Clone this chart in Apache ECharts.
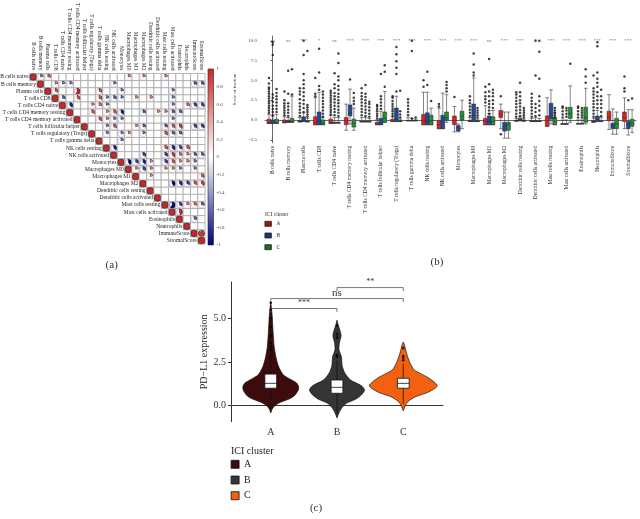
<!DOCTYPE html>
<html><head><meta charset="utf-8">
<script src="https://cdn.jsdelivr.net/npm/echarts@6/dist/echarts.min.js"></script>
<style>html,body{margin:0;padding:0;background:#fff}#c{width:640px;height:519px}</style>
</head><body><div id="c"></div>
<script>
// ---------- data ----------
const cellTypes = ['B cells naive','B cells memory','Plasma cells','T cells CD8','T cells CD4 naive','T cells CD4 memory resting','T cells CD4 memory activated','T cells follicular helper','T cells regulatory (Tregs)','T cells gamma delta','NK cells resting','NK cells activated','Monocytes','Macrophages M0','Macrophages M1','Macrophages M2','Dendritic cells resting','Dendritic cells activated','Mast cells resting','Mast cells activated','Eosinophils','Neutrophils','ImmuneScore','StromalScore'];
// significant correlations [row, col, r]
const corrSig = [
[0,1,-0.2],[0,2,0.25],[0,13,0.2],[0,15,0.2],[0,18,0.2],
[1,3,0.2],[1,4,-0.2],[1,5,-0.2],[1,11,-0.2],[1,22,-0.25],[1,23,-0.25],
[2,3,0.3],[2,6,0.55],[2,9,0.3],[2,12,-0.2],[2,19,-0.2],
[3,4,-0.25],[3,6,0.3],[3,9,0.3],[3,10,-0.2],[3,11,-0.25],[3,12,-0.2],[3,14,0.2],[3,16,0.2],[3,19,-0.2],
[4,5,-0.35],[4,8,0.2],[4,9,0.25],[4,10,-0.2],[4,19,-0.2],[4,21,0.25],[4,22,-0.3],[4,23,-0.3],
[5,8,0.3],[5,10,0.2],[5,11,0.3],[5,12,-0.35],[5,15,-0.25],[5,17,0.2],[5,18,0.2],[5,19,-0.25],[5,20,-0.25],
[6,9,0.3],[6,10,0.2],[6,11,-0.2],[6,12,-0.2],[6,19,-0.2],
[7,10,-0.2],[7,11,0.3],[7,14,0.2],[7,15,-0.25],[7,18,-0.25],[7,19,0.3],[7,20,0.35],[7,22,-0.3],[7,23,-0.3],
[8,10,-0.2],[8,12,-0.2],[8,13,0.2],[8,15,-0.2],[8,18,0.3],[8,19,-0.25],[8,20,-0.25],
[9,12,-0.2],
[10,11,-0.35],[10,18,0.3],[10,19,-0.35],[10,20,-0.3],[10,21,0.3],
[11,15,-0.3],[11,18,-0.3],[11,19,0.35],[11,20,0.25],[11,21,0.2],[11,22,-0.25],[11,23,-0.25],
[12,13,-0.4],[12,14,-0.3],[12,15,-0.35],[12,16,0.2],[12,18,-0.3],[12,19,0.3],[12,20,0.2],[12,21,0.2],[12,22,-0.2],
[13,14,0.2],[13,15,-0.3],[13,16,0.2],[13,18,0.2],[13,19,0.2],[13,20,-0.2],[13,22,-0.2],
[14,16,0.2],[14,23,0.3],
[15,19,-0.4],[15,20,-0.35],[15,21,-0.3],[15,22,0.3],[15,23,0.35],
[18,19,-0.6],[18,20,-0.3],[18,21,0.2],[18,22,0.25],[18,23,-0.25],
[19,20,0.45],
[20,22,-0.25],
[22,23,0.9]
];
const colorbarTicks = [-1,-0.8,-0.6,-0.4,-0.2,0,0.2,0.4,0.6,0.8,1];

// panel b: [min, Q1, median, Q3, max]
const boxA = [
[-0.45,-0.45,-0.3,0.1,0.7],[-0.35,-0.35,-0.25,0.0,0.4],[-0.25,-0.25,-0.2,-0.1,0.3],[-0.6,-0.6,-0.3,0.4,2.8],
[-0.45,-0.45,-0.3,0.1,0.6],[-1.3,-0.6,-0.1,0.3,2.0],[-0.25,-0.25,-0.2,-0.15,0.3],[-0.6,-0.6,-0.5,-0.3,0.0],
[-0.2,-0.2,-0.15,0.1,0.4],[-0.1,-0.1,-0.1,-0.05,0.3],[-0.6,-0.6,-0.1,0.7,3.5],[-1.1,-1.1,-0.6,-0.1,1.5],
[-1.5,-0.6,-0.1,0.5,1.7],[-0.2,-0.2,-0.15,-0.05,0.3],[-0.6,-0.6,-0.2,0.2,1.8],[-1.1,0.3,0.7,1.2,2.0],
[-0.15,-0.15,-0.1,-0.05,0.2],[-0.2,-0.2,-0.15,-0.1,0.2],[-0.8,-0.8,-0.1,0.5,2.8],[-0.55,-0.55,-0.5,-0.45,0.0],
[-0.5,-0.5,-0.5,-0.45,0.0],[-0.3,-0.3,-0.2,-0.1,0.2],[-1.2,-0.1,0.4,1.1,3.2],[-1.1,-0.2,0.3,1.0,2.8]];
const boxB = [
[-0.45,-0.45,-0.3,0.0,0.5],[-0.3,-0.3,-0.25,-0.1,0.3],[-0.2,-0.2,-0.1,0.4,0.9],[-0.6,-0.6,-0.2,1.0,3.5],
[-0.4,-0.4,-0.35,-0.3,0.3],[-0.5,0.5,0.9,1.9,3.9],[-0.25,-0.25,-0.2,-0.15,0.3],[-0.6,-0.6,-0.4,0.2,1.1],
[-0.2,-0.2,0.1,1.5,3.0],[-0.1,-0.1,-0.1,-0.05,0.2],[-0.6,-0.6,-0.2,0.9,3.5],[-1.1,-1.1,-0.3,0.6,3.4],
[-1.5,-1.4,-1.0,-0.7,-0.5],[-0.2,-0.2,0.6,2.0,5.3],[-0.6,-0.6,-0.2,0.5,0.8],[-2.3,-1.4,-0.8,-0.3,1.0],
[-0.1,-0.1,0.0,0.2,0.4],[-0.2,-0.2,-0.15,-0.1,0.3],[-0.5,0.1,0.6,2.1,3.8],[-0.55,-0.55,-0.5,-0.45,0.0],
[-0.5,-0.5,-0.5,-0.4,0.0],[-0.2,-0.2,0.1,0.5,1.2],[-1.8,-1.1,-0.7,-0.4,1.4],[-1.9,-1.1,-0.5,-0.2,1.3]];
const boxC = [
[-0.45,-0.45,-0.3,0.1,0.7],[-0.3,-0.3,-0.2,0.2,3.0],[-0.25,-0.25,-0.2,-0.1,0.2],[-0.6,-0.6,-0.4,0.0,0.3],
[-0.4,-0.4,-0.35,-0.3,0.3],[-1.3,-0.9,-0.4,0.1,1.5],[-0.25,-0.25,-0.2,-0.15,0.2],[-0.3,-0.3,0.2,1.0,3.6],
[-0.2,-0.2,-0.15,-0.1,0.1],[-0.1,-0.1,-0.1,-0.05,0.1],[-0.6,-0.6,-0.1,0.6,1.5],[-0.3,0.0,0.3,1.0,3.2],
[-1.1,0.0,0.5,1.1,2.5],[-0.2,-0.2,-0.15,-0.1,0.1],[-0.6,-0.6,-0.2,0.4,1.2],[-2.3,-1.3,-0.6,-0.3,1.0],
[-0.15,-0.15,-0.1,-0.05,0.1],[-0.2,-0.2,-0.15,-0.1,0.2],[-0.6,-0.6,-0.2,0.3,0.9],[-0.3,0.2,0.8,1.6,4.3],
[-0.5,-0.3,0.3,1.6,4.0],[-0.2,-0.2,-0.15,-0.1,0.3],[-1.8,-1.1,-0.5,0.2,1.0],[-1.6,-0.8,-0.4,0.1,1.3]];
// outliers per category
const outA = [
[0.9,1.2,1.5,1.8,2.1,2.4,2.7,3.0,3.3,3.6,3.9,4.1,4.6,5.3],[0.6,0.9,1.2,1.5,1.8,2.1,2.5,3.6],[0.5,0.9,1.3,1.7,2.1,2.6,3.2,3.6,4.0],[3.0,3.3,5.3],
[0.7,1.0,1.3,1.6,1.9,2.2,2.5,2.8,3.1,3.4,3.7],[],[0.6,1.0,1.4,1.8,2.2,2.6,3.0,3.4,4.0],[0.2,0.5,0.8,1.1,1.4,1.7,1.9],
[0.5,0.8,1.1,1.4,1.7,2.0,2.4,2.8,3.0],[0.6,1.0,1.4,1.8,2.2,2.6],[4.2,5.0],[1.7,2.0],
[2.9],[0.5,0.9,1.3,1.7,2.1,2.5,3.0],[2.2,2.6,3.0,3.5,4.2],[-1.8,3.0],
[0.4,0.8,1.2,1.6,2.0,2.4,2.8,3.2,3.5],[0.4,0.8,1.2,1.6,2.0,2.4,2.8,3.3],[],[0.3,0.7,1.1,1.5,1.7],
[0.3,0.7,1.1,1.5,1.7],[0.4,0.8,1.2,1.6,2.0,2.4,2.8,3.2,3.6,4.0,5.6],[],[3.6,4.0,5.5]];
const outB = [
[0.6,1.0,1.4,1.8,2.3,2.8,3.2,8.2,9.5,9.8],[0.5,0.9,1.3,1.7,2.1,3.3,6.2],[1.0,1.5,2.0,2.5,3.0,3.5,4.0,4.5,5.0,5.8,8.2,10.0],[3.8,4.3,6.0,9.0],
[0.6,1.0,1.4,1.8,2.2,2.6,3.0,3.4,4.0,4.5,5.9],[5.1],[0.5,0.9,1.3,1.7,2.1,2.5,2.9,3.3,4.4],[1.4,1.8,2.2,2.6,3.0,5.8],
[3.6,5.8,6.6,7.4,8.3,9.2],[0.2,8.7,10.0],[4.4,6.1],[],
[],[5.6,6.0,7.0,8.4],[0.8,1.2,1.6,2.0,2.4,3.0,3.6,4.5,7.7],[],
[0.5,0.9,1.3,1.7,2.1,2.5,3.0,3.5,4.7],[0.5,1.0,1.5,2.0,5.6,10.0],[],[0.4,0.8,1.2,1.5],
[0.3,0.6,0.9,1.2,1.5],[1.5,2.0,2.5,3.0,3.5,4.2,4.7,5.2,6.0,9.3,9.8],[],[2.5]];
const outC = [
[1.0,1.4,1.8,2.2,2.6,3.0,3.4,3.9],[3.2,6.4],[0.4,0.7,1.0,1.3,1.6,1.9,8.7],[0.4,0.8,1.2,1.6,2.0,2.4,2.8,3.2,3.6],
[0.5,0.9,1.3,1.7,2.1,2.5,2.9,3.3,3.8,4.3,5.0,5.5,7.2,8.4],[2.0,2.4,2.8,3.4],[0.4,0.8,1.2,1.6,2.0,2.3],[4.2,6.1,6.9],
[0.3,0.7,1.1,3.7],[0.3],[2.4],[3.6,4.0,4.4,4.8],
[],[0.3,0.6,0.9,1.2,1.5],[1.5,2.0,2.5,3.0,3.4,3.8],[],
[0.3,0.6,0.9,1.2,1.5],[0.6,1.2,1.8,2.4,3.0,5.2,8.6,10.0],[0.3,0.6,0.9,1.2,1.5],[7.1],
[4.7,5.5,6.4],[0.5,1.0,1.5,2.0,2.5,3.0,3.8],[],[2.7]];
const sigB = ['ns','ns','***','*','ns','***','***','***','***','***','***','***','***','***','ns','***','***','*','***','***','***','***','***','***'];
const sigLevel = 10.0;
const bTicks = [-2.5,0,2.5,5,7.5,10];

// panel c
const clusters = ['A','B','C'];
// violin density profiles: [value, relative density]
const violinA = [[-0.42,0],[-0.2,0.04],[0.0,0.12],[0.2,0.29],[0.4,0.56],[0.6,0.71],[0.9,0.81],[1.1,0.82],[1.3,0.76],[1.5,0.59],[1.75,0.38],[2.0,0.29],[2.3,0.22],[2.8,0.15],[3.4,0.10],[4.2,0.07],[5.2,0.04],[5.95,0]];
const violinB = [[-0.7,0],[-0.4,0.06],[-0.1,0.15],[0.15,0.29],[0.35,0.53],[0.6,0.71],[0.9,0.81],[1.15,0.71],[1.45,0.41],[1.7,0.29],[1.95,0.21],[2.3,0.15],[2.8,0.13],[3.2,0.06],[3.6,0.07],[4.0,0.12],[4.3,0.09],[4.6,0.04],[4.9,0]];
const violinC = [[-0.3,0],[0.0,0.06],[0.25,0.15],[0.5,0.35],[0.75,0.71],[1.0,0.94],[1.15,1.0],[1.35,0.91],[1.6,0.74],[1.85,0.5],[2.05,0.32],[2.4,0.21],[2.8,0.13],[3.2,0.07],[3.45,0.04],[3.65,0]];
const innerBox = [[0.0,1.0,1.28,1.81,3.0],[-0.45,0.71,1.05,1.47,2.6],[0.1,1.0,1.28,1.57,2.4]];
const outliersC = [[1,3.2],[1,3.4],[1,3.6],[1,4.0],[1,4.5],[1,5.0],[1,5.5],[1,5.9],[2,2.8],[2,2.9],[2,3.9],[2,4.1],[2,4.6],[3,2.6],[3,2.75],[3,2.85],[3,3.3]];
const brackets = [[1,2,5.57,'***'],[1,3,6.14,'ns'],[2,3,6.77,'**']];
const cTicks = [0,2.5,5];

// ---------- styles ----------
const SERIF = '"Liberation Serif", "DejaVu Serif", serif';
const boxColors = ['#e41f1f','#1f4c9a','#219133'];
const boxLegendColors = ['#9a1616','#1a3670','#1b6a2a'];
const violinColors = ['#3c0b0b','#353535','#f3600f'];
const violins = [violinA, violinB, violinC];

function mix(a,b,t){return a.map((v,k)=>Math.round(v+(b[k]-v)*t));}
function corrColor(r){
  const white=[255,255,255], navy=[0,0,128], red=[205,38,38];
  const c = r>=0 ? mix(white,red,Math.min(1,r)) : mix(white,navy,Math.min(1,-r));
  return 'rgb('+c.join(',')+')';
}

const corrMap = {};
corrSig.forEach(([i,j,r]) => { corrMap[i+'_'+j] = r; });
const cells = [];
for (let i=0;i<cellTypes.length;i++) for (let j=i;j<cellTypes.length;j++) {
  cells.push([j, i, i===j ? 1 : (corrMap[i+'_'+j] || 0)]);
}

const DODGE = 0.246;
function outlierData(arr, g){
  const res=[];
  arr.forEach((vals,ci)=>vals.forEach(v=>res.push([ci+(g-1)*DODGE, v])));
  return res;
}

const chart = echarts.init(document.getElementById('c'), null, {renderer:'canvas'});
const option = {
  animation:false,
  backgroundColor:'#fff',
  textStyle:{fontFamily:SERIF},
  grid:[
    {left:29.6, top:68.6, width:175.5, height:175.5},
    {left:208, top:69, width:5.5, height:176},
    {left:265, top:36, width:371, height:106.7},
    {left:231, top:282, width:212, height:139.7}
  ],
  xAxis:[
    {type:'category', gridIndex:0, data:cellTypes, position:'top',
     axisLine:{show:false}, axisTick:{show:false}, splitLine:{show:false},
     axisLabel:{rotate:90, interval:0, fontSize:5.5, margin:3, color:'#222', fontFamily:SERIF}},
    {type:'value', gridIndex:1, min:0, max:1, show:false},
    {type:'category', gridIndex:2, data:cellTypes,
     axisLine:{lineStyle:{color:'#444', width:0.8}}, axisTick:{alignWithLabel:true, length:2, lineStyle:{color:'#444'}},
     axisLabel:{rotate:90, interval:0, fontSize:5.5, margin:3, color:'#333', fontFamily:SERIF}},
    {type:'value', gridIndex:2, min:-0.5, max:23.5, show:false},
    {type:'value', gridIndex:3, min:0.4, max:3.6,
     splitLine:{show:false},
     axisLine:{lineStyle:{color:'#333', width:1}},
     axisTick:{length:3, customValues:[1,2,3], lineStyle:{color:'#333'}},
     axisLabel:{customValues:[1,2,3], formatter:v=>clusters[Math.round(v)-1], fontSize:10, margin:6, color:'#333', fontFamily:SERIF}}
  ],
  yAxis:[
    {type:'category', gridIndex:0, data:cellTypes, inverse:true, show:false},
    {type:'value', gridIndex:1, min:-1, max:1, interval:0.2, position:'right',
     axisLine:{show:false}, axisTick:{show:false}, splitLine:{show:false},
     axisLabel:{customValues:colorbarTicks, formatter:v=>String(+v.toFixed(1)), fontSize:5, margin:3, color:'#444', fontFamily:SERIF}},
    {type:'value', gridIndex:2, min:-2.87, max:10.6,
     splitLine:{show:false},
     axisLine:{show:true, lineStyle:{color:'#444', width:0.8}},
     axisTick:{show:true, length:2, customValues:bTicks, lineStyle:{color:'#444'}},
     axisLabel:{customValues:bTicks, formatter:v=>v.toFixed(1), fontSize:5, margin:8, color:'#444', fontFamily:SERIF},
     name:'Scale of fraction', nameLocation:'middle', nameGap:16,
     nameTextStyle:{fontSize:4.8, color:'#333', fontFamily:SERIF}},
    {type:'value', gridIndex:3, min:-0.92, max:7.09,
     splitLine:{show:false},
     axisLine:{show:true, lineStyle:{color:'#333', width:1}},
     axisTick:{show:true, length:3, customValues:cTicks, lineStyle:{color:'#333'}},
     axisLabel:{customValues:cTicks, formatter:v=>v.toFixed(1), fontSize:10, margin:5, color:'#333', fontFamily:SERIF},
     name:'PD\u2212L1 expression', nameLocation:'middle', nameGap:22,
     nameTextStyle:{fontSize:10, color:'#222', fontFamily:SERIF}}
  ],
  legend:[
    {data:[{name:'bA',itemStyle:{color:boxLegendColors[0]}},{name:'bB',itemStyle:{color:boxLegendColors[1]}},{name:'bC',itemStyle:{color:boxLegendColors[2]}}],
     formatter:n=>n.slice(1), orient:'vertical', left:264.5, top:220.8, padding:0,
     itemWidth:6.5, itemHeight:5, itemGap:5.7, icon:'rect', selectedMode:false,
     itemStyle:{borderColor:'#222', borderWidth:0.8},
     textStyle:{fontSize:5.5, color:'#333', fontFamily:SERIF}},
    {data:['cA','cB','cC'], formatter:n=>n.slice(1), orient:'vertical', left:230.7, top:459.3, padding:0,
     itemWidth:8, itemHeight:8, itemGap:5.7, icon:'rect', selectedMode:false,
     itemStyle:{borderColor:'#111', borderWidth:0.8},
     textStyle:{fontSize:10, color:'#222', fontFamily:SERIF}}
  ],
  graphic:[
    {type:'text', x:265, y:215, style:{text:'ICI cluster', font:'5.5px '+SERIF, fill:'#333', align:'left', verticalAlign:'middle'}},
    {type:'text', x:231, y:451, style:{text:'ICI cluster', font:'10px '+SERIF, fill:'#222', align:'left', verticalAlign:'middle'}},
    {type:'text', x:111.7, y:265, style:{text:'(a)', font:'11px '+SERIF, fill:'#333', align:'center', verticalAlign:'middle'}},
    {type:'text', x:437, y:262, style:{text:'(b)', font:'11px '+SERIF, fill:'#333', align:'center', verticalAlign:'middle'}},
    {type:'text', x:316, y:508, style:{text:'(c)', font:'11px '+SERIF, fill:'#333', align:'center', verticalAlign:'middle'}}
  ],
  series:[
    // panel a: correlation matrix
    {type:'custom', name:'corr', xAxisIndex:0, yAxisIndex:0, clip:false, silent:true, data:cells,
     renderItem:(params, api)=>{
       const j=api.value(0), i=api.value(1), r=api.value(2);
       const c=api.coord([j,i]); const s=api.size([1,1]); const w=s[0], h=s[1];
       const diag = i===j;
       const rad = Math.min(w,h)*0.42;
       const ch=[{type:'rect', shape:{x:c[0]-w/2, y:c[1]-h/2, width:w, height:h},
                  style:{fill: diag?'#8e8e8e':'#fff', stroke:'#a8a8a8', lineWidth:0.8}}];
       if (diag) {
         ch.push({type:'circle', shape:{cx:c[0], cy:c[1], r:rad*1.08}, style:{fill:corrColor(1), stroke:'#333', lineWidth:0.7}});
         ch.push({type:'text', x:c[0]-w/2-1, y:c[1], style:{text:cellTypes[i], align:'right', verticalAlign:'middle', font:'5.5px '+SERIF, fill:'#222'}});
       } else if (r!==0) {
         const strong = r>0.8 ? r : Math.sign(r)*Math.min(1,Math.abs(r)*2.5);
         ch.push({type:'circle', shape:{cx:c[0], cy:c[1], r:rad}, style:{fill:'#fff', stroke:corrColor(r), lineWidth:0.8}});
         ch.push({type:'sector', shape:{cx:c[0], cy:c[1], r0:0, r:rad, startAngle:-Math.PI/2, endAngle:-Math.PI/2+Math.abs(r)*Math.PI*2, clockwise:true},
                  style:{fill:corrColor(strong), stroke:'#111', lineWidth:0.5}});
       }
       return {type:'group', children:ch};
     }},
    // colorbar
    {type:'custom', name:'colorbar', xAxisIndex:1, yAxisIndex:1, clip:false, silent:true, data:[[0]],
     renderItem:(params, api)=>{
       const tl=api.coord([0,1]), br=api.coord([1,-1]);
       return {type:'rect', shape:{x:tl[0], y:tl[1], width:br[0]-tl[0], height:br[1]-tl[1]},
         style:{fill:{type:'linear', x:0, y:0, x2:0, y2:1, colorStops:[{offset:0,color:corrColor(1)},{offset:0.5,color:'#fff'},{offset:1,color:corrColor(-1)}]},
                stroke:'#222', lineWidth:0.6}};
     }},
    // panel b boxplots
    ...[boxA, boxB, boxC].map((d,g)=>({type:'boxplot', name:'b'+clusters[g], xAxisIndex:2, yAxisIndex:2, data:d,
       boxWidth:[3.8,3.8], silent:true, itemStyle:{color:boxColors[g], borderColor:'#333', borderWidth:0.6}})),
    ...[outA, outB, outC].map((d,g)=>({type:'scatter', name:'out'+g, xAxisIndex:3, yAxisIndex:2, data:outlierData(d,g),
       symbolSize:2.5, silent:true, itemStyle:{color:'#111'}})),
    {type:'scatter', name:'sigB', xAxisIndex:2, yAxisIndex:2, data:sigB.map((s,i)=>[i,sigLevel]), symbolSize:0, silent:true,
     label:{show:true, position:'inside', formatter:p=>sigB[p.dataIndex], fontSize:5, color:'#444', fontFamily:SERIF}},
    // panel c violins
    ...violins.map((prof,g)=>({type:'custom', name:'c'+clusters[g], xAxisIndex:4, yAxisIndex:3, data:[[g+1]], silent:true,
       itemStyle:{color:violinColors[g]},
       renderItem:(params, api)=>{
         const x=api.value(0); const HALF=0.513; const pts=[];
         prof.forEach(([v,d])=>pts.push(api.coord([x+d*HALF, v])));
         for (let k=prof.length-1;k>=0;k--) pts.push(api.coord([x-prof[k][1]*HALF, prof[k][0]]));
         return {type:'polygon', shape:{points:pts, smooth:0.25}, style:{fill:api.visual('color'), stroke:'#111', lineWidth:0.7}};
       }})),
    {type:'custom', name:'innerBox', xAxisIndex:4, yAxisIndex:3, silent:true,
     data:innerBox.map((b,g)=>[g+1, ...b]),
     renderItem:(params, api)=>{
       const x=api.value(0); const hw=0.089;
       const lo=api.coord([x, api.value(1)]), hi=api.coord([x, api.value(5)]);
       const q1l=api.coord([x-hw, api.value(2)]), q3r=api.coord([x+hw, api.value(4)]);
       const ml=api.coord([x-hw, api.value(3)]), mr=api.coord([x+hw, api.value(3)]);
       return {type:'group', children:[
         {type:'line', shape:{x1:lo[0], y1:lo[1], x2:hi[0], y2:hi[1]}, style:{stroke:'#111', lineWidth:0.8}},
         {type:'rect', shape:{x:q1l[0], y:q3r[1], width:q3r[0]-q1l[0], height:q1l[1]-q3r[1]}, style:{fill:'#fff', stroke:'#111', lineWidth:0.8}},
         {type:'line', shape:{x1:ml[0], y1:ml[1], x2:mr[0], y2:mr[1]}, style:{stroke:'#111', lineWidth:0.8}}
       ]};
     }},
    {type:'scatter', name:'outC', xAxisIndex:4, yAxisIndex:3, data:outliersC, symbolSize:2.6, silent:true, itemStyle:{color:'#000'}},
    {type:'custom', name:'brackets', xAxisIndex:4, yAxisIndex:3, clip:false, silent:true,
     data:brackets.map(b=>[b[0], b[1], b[2]]),
     renderItem:(params, api)=>{
       const x1=api.value(0), x2=api.value(1), y=api.value(2);
       const lab=brackets[params.dataIndex][3];
       const p1=api.coord([x1,y-0.2]), p2=api.coord([x1,y]), p3=api.coord([x2,y]), p4=api.coord([x2,y-0.2]);
       const mid=api.coord([(x1+x2)/2, y]);
       const fs = lab==='ns' ? 11 : 8;
       return {type:'group', children:[
         {type:'polyline', shape:{points:[p1,p2,p3,p4]}, style:{stroke:'#555', lineWidth:0.8, fill:null}},
         {type:'text', x:mid[0], y:mid[1]-(lab==='ns'?0:1.5), style:{text:lab, align:'center', verticalAlign:'bottom', font:fs+'px '+SERIF, fill:'#333'}}
       ]};
     }}
  ]
};
chart.setOption(option);
</script></body></html>
